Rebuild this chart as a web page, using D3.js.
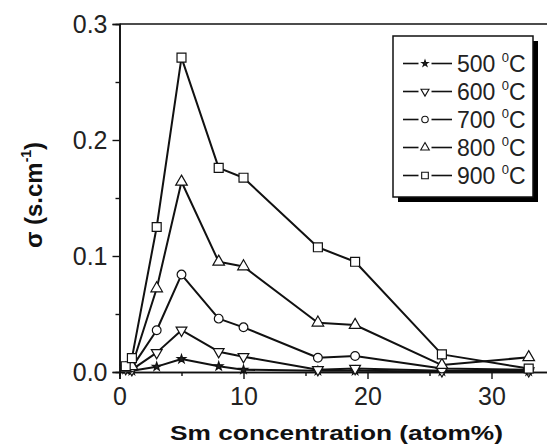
<!DOCTYPE html>
<html>
<head>
<meta charset="utf-8">
<script src="https://cdn.jsdelivr.net/npm/d3@7"></script>
<style>
  html, body { margin: 0; padding: 0; background: #fff; }
  svg { display: block; }
  text { font-family: "Liberation Sans", Arial, sans-serif; }
</style>
</head>
<body>
<svg id="chart" width="547" height="446"></svg>
<script>
// ---- data ----
const xValues = [0.5, 1, 3, 5, 8, 10, 16, 19, 26, 33];
const s500 = [0.002, 0.001, 0.0046, 0.0112, 0.005, 0.002, 0.001, 0.001, 0.0005, 0.0005];
const s600 = [0.003, 0.002, 0.0167, 0.036, 0.0175, 0.0132, 0.002, 0.003, 0.001, 0.001];
const s700 = [0.004, 0.004, 0.036, 0.084, 0.046, 0.0385, 0.0123, 0.0138, 0.003, 0.002];
const s800 = [0.003, 0.005, 0.072, 0.164, 0.095, 0.091, 0.0425, 0.0405, 0.006, 0.0127];
const s900 = [0.005, 0.012, 0.125, 0.271, 0.176, 0.1675, 0.1075, 0.095, 0.0152, 0.003];
const seriesNames = ["500", "600", "700", "800", "900"];
const seriesValues = [s500, s600, s700, s800, s900];
const yTicks = [0, 0.1, 0.2, 0.3];
const yMinorTicks = [0.05, 0.15, 0.25];
const xTicks = [0, 10, 20, 30];
const xMinorTicks = [5, 15, 25, 35];
const xTitle = "Sm concentration (atom%)";

// ---- layout ----
const svg = d3.select("#chart");
const x = d3.scaleLinear().domain([0, 35]).range([119.5, 553.5]);
const y = d3.scaleLinear().domain([0, 0.3]).range([372, 24]);

const markerDefs = [
  { type: d3.symbolStar, size: 22, fill: "#222", rot: 0 },
  { type: d3.symbolTriangle, size: 50, fill: "#fff", rot: 180 },
  { type: d3.symbolCircle, size: 60, fill: "#fff", rot: 0 },
  { type: d3.symbolTriangle, size: 58, fill: "#fff", rot: 0 },
  { type: d3.symbolSquare, size: 80, fill: "#fff", rot: 0 }
];

// frame line (top)
svg.append("line").attr("x1", x(0)).attr("x2", 560).attr("y1", y(0.3)).attr("y2", y(0.3))
  .attr("stroke", "#111").attr("stroke-width", 1.6);

// axes
const yAxis = d3.axisLeft(y).tickValues(yTicks).tickFormat(d3.format(".1f")).tickSize(7).tickPadding(5);
const yMinor = d3.axisLeft(y).tickValues(yMinorTicks).tickFormat("").tickSize(4);
const xAxis = d3.axisBottom(x).tickValues(xTicks).tickFormat(d3.format("d")).tickSize(7).tickPadding(8);
const xMinor = d3.axisBottom(x).tickValues(xMinorTicks).tickFormat("").tickSize(4);

function styleAxis(g) {
  g.selectAll("path").attr("stroke", "#111").attr("stroke-width", 1.6);
  g.selectAll("line").attr("stroke", "#111").attr("stroke-width", 1.4);
  g.selectAll("text").attr("font-size", 25).attr("fill", "#222")
    .attr("font-family", "'Liberation Sans', Arial, sans-serif");
}

svg.append("g").attr("transform", `translate(${x(0)},0)`).call(yMinor).call(styleAxis);
svg.append("g").attr("transform", `translate(${x(0)},0)`).call(yAxis).call(styleAxis);
svg.append("g").attr("transform", `translate(0,${y(0)})`).call(xMinor).call(styleAxis);
svg.append("g").attr("transform", `translate(0,${y(0)})`).call(xAxis).call(styleAxis);

// lines & markers
const line = d3.line().x(d => x(d[0])).y(d => y(d[1]));
seriesValues.forEach((vals, i) => {
  const pts = xValues.map((xv, j) => [xv, vals[j]]);
  svg.append("path").datum(pts).attr("d", line)
    .attr("fill", "none").attr("stroke", "#111").attr("stroke-width", 2)
    .attr("stroke-linejoin", "round");
});
seriesValues.forEach((vals, i) => {
  const m = markerDefs[i];
  const sym = d3.symbol().type(m.type).size(m.size);
  const pts = xValues.map((xv, j) => [xv, vals[j]]);
  svg.append("g").selectAll("path").data(pts).join("path")
    .attr("d", sym)
    .attr("transform", d => `translate(${x(d[0])},${y(d[1])}) rotate(${m.rot})`)
    .attr("fill", m.fill).attr("stroke", "#111").attr("stroke-width", 1.2);
});

// legend
const lg = svg.append("g");
lg.append("rect").attr("x", 398).attr("y", 41).attr("width", 140).attr("height", 161).attr("fill", "#000");
lg.append("rect").attr("x", 393).attr("y", 36).attr("width", 140).attr("height", 161)
  .attr("fill", "#fff").attr("stroke", "#111").attr("stroke-width", 1.5);
seriesNames.forEach((name, i) => {
  const cy = 63.5 + i * 28;
  const m = markerDefs[i];
  lg.append("line").attr("x1", 403).attr("x2", 418.5).attr("y1", cy).attr("y2", cy)
    .attr("stroke", "#111").attr("stroke-width", 1.6);
  lg.append("line").attr("x1", 431.5).attr("x2", 452).attr("y1", cy).attr("y2", cy)
    .attr("stroke", "#111").attr("stroke-width", 1.6);
  lg.append("path").attr("d", d3.symbol().type(m.type).size(m.size * 0.55))
    .attr("transform", `translate(425,${cy}) rotate(${m.rot})`)
    .attr("fill", m.fill).attr("stroke", "#111").attr("stroke-width", 1.1);
  const t = lg.append("text").attr("x", 457).attr("y", cy + 8.5)
    .attr("font-size", 23).attr("fill", "#222");
  t.append("tspan").text(name + " ");
  t.append("tspan").attr("font-size", 13).attr("dy", -10).text("0");
  t.append("tspan").attr("dy", 10).text("C");
});

// axis titles
svg.append("text").attr("x", 170).attr("y", 440)
  .attr("font-size", 20).attr("font-weight", "bold").attr("fill", "#111")
  .attr("textLength", 333).attr("lengthAdjust", "spacingAndGlyphs")
  .text(xTitle);

const yt = svg.append("text").attr("transform", "translate(42,195) rotate(-90)")
  .attr("text-anchor", "middle").attr("font-size", 24).attr("font-weight", "bold").attr("fill", "#111");
yt.append("tspan").text("σ (s.cm");
yt.append("tspan").attr("font-size", 14).attr("dy", -11).text("-1");
yt.append("tspan").attr("dy", 11).text(")");
</script>
</body>
</html>
